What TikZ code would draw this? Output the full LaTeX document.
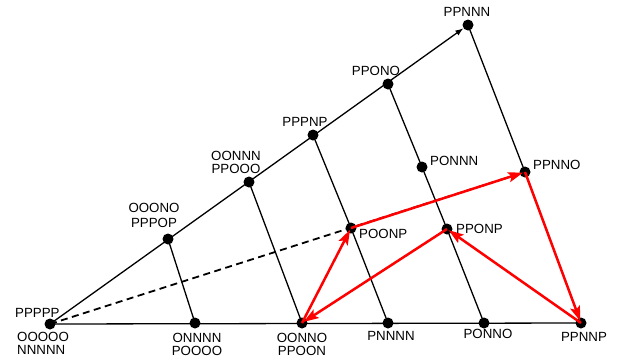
\documentclass[tikz,border=0pt]{standalone}
\usepackage{fontspec}
\setmainfont{Liberation Sans}
\usetikzlibrary{arrows.meta}
\begin{document}
\begin{tikzpicture}[x=1pt,y=-1pt,
  dot/.style={circle,fill=black,inner sep=0pt,minimum size=11pt},
  lbl/.style={inner sep=0pt,font=\fontsize{13.3}{13}\selectfont},
  edge/.style={line width=1.3pt},
  dashedge/.style={line width=1.8pt,dash pattern=on 7pt off 4.5pt},
  move/.style={red,line width=2.5pt,shorten >=2pt,
    -{Stealth[length=15pt,width=10pt,inset=3pt]}}]
\useasboundingbox (0,0) rectangle (625,360);

% lattice points
\node[dot] (ppppp) at (50,324) {};
\node[dot] (pppop) at (168,239) {};
\node[dot] (ppooo) at (249,182) {};
\node[dot] (pppnp) at (313,135) {};
\node[dot] (ppono) at (388,84) {};
\node[dot] (ppnnn) at (468,25) {};
\node[dot] (onnnn) at (195,323) {};
\node[dot] (oonno) at (302,323) {};
\node[dot] (pnnnn) at (388,323) {};
\node[dot] (ponno) at (484,323) {};
\node[dot] (ppnnp) at (581,323) {};
\node[dot] (poonp) at (351,228) {};
\node[dot] (ponnn) at (422,167) {};
\node[dot] (pponp) at (447,229) {};
\node[dot] (ppnno) at (525,172) {};

% frame lines
\draw[edge,-{Latex[length=8pt,width=6pt]}] (ppppp.center) -- (ppnnn);
\draw[edge] (ppppp.center) -- (ppnnp.center);
\draw[edge] (pppop.center) -- (onnnn.center);
\draw[edge] (ppooo.center) -- (oonno.center);
\draw[edge] (pppnp.center) -- (poonp.center) -- (pnnnn.center);
\draw[edge] (ppono.center) -- (ponnn.center) -- (pponp.center) -- (ponno.center);
\draw[edge] (ppnnn.center) -- (ppnno.center) -- (ppnnp.center);
\draw[dashedge] (ppppp.center) -- (ppnno.center);

% red cycle
\draw[move] (poonp.center) -- (ppnno.center);
\draw[move] (ppnno.center) -- (ppnnp.center);
\draw[move] (ppnnp.center) -- (pponp.center);
\draw[move] (pponp.center) -- (oonno.center);
\draw[move] (oonno.center) -- (poonp.center);

% labels
\node[lbl,anchor=north west] (l-ppppp) at (15,308) {PPPPP};
\node[lbl,anchor=north west,align=left] (l-ooooo) at (17,332) {OOOOO\\NNNNN};
\node[lbl,anchor=north,align=center] (l-pppop) at (154,203) {OOONO\\[2pt]PPPOP};
\node[lbl,anchor=north,align=center] (l-ppooo) at (236,151) {OONNN\\PPOOO};
\node[lbl,anchor=north] (l-pppnp) at (305,117) {PPPNP};
\node[lbl,anchor=north] (l-ppono) at (376,66) {PPONO};
\node[lbl,anchor=north] (l-ppnnn) at (467,7) {PPNNN};
\node[lbl,anchor=north west] (l-ponnn) at (430,156) {PONNN};
\node[lbl,anchor=north west] (l-ppnno) at (533,160) {PPNNO};
\node[lbl,anchor=north west] (l-poonp) at (359,229) {POONP};
\node[lbl,anchor=north west] (l-pponp) at (456,224) {PPONP};
\node[lbl,anchor=north,align=center] (l-onnnn) at (197,333) {ONNNN\\POOOO};
\node[lbl,anchor=north,align=center] (l-oonno) at (302,333) {OONNO\\PPOON};
\node[lbl,anchor=north] (l-pnnnn) at (391,331) {PNNNN};
\node[lbl,anchor=north] (l-ponno) at (488,329) {PONNO};
\node[lbl,anchor=north] (l-ppnnp) at (584,332) {PPNNP};
\end{tikzpicture}
\end{document}
